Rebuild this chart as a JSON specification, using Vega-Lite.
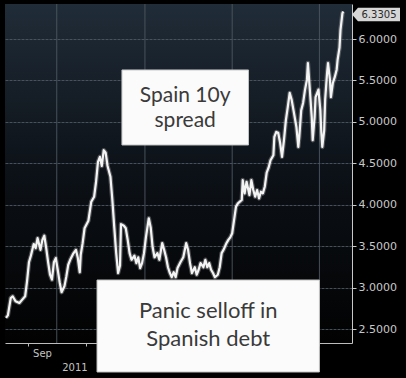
{
  "$schema": "https://vega.github.io/schema/vega-lite/v6.json",
  "width": 347,
  "height": 339,
  "autosize": {"type": "none"},
  "padding": {"left": 5, "top": 4, "right": 54, "bottom": 35},
  "background": "#000000",
  "config": {
    "view": {
      "stroke": null,
      "fill": {"gradient": "linear", "x1": 0, "y1": 0, "x2": 0, "y2": 1,
        "stops": [{"offset": 0, "color": "#202c38"}, {"offset": 0.5, "color": "#0c1117"}, {"offset": 1, "color": "#020202"}]}
    }
  },
  "datasets": {
    "series": [
      {"date":"2011-08-09","value":2.64},{"date":"2011-08-11","value":2.67},{"date":"2011-08-14","value":2.88},{"date":"2011-08-16","value":2.90},
      {"date":"2011-08-19","value":2.84},{"date":"2011-08-23","value":2.82},{"date":"2011-08-26","value":2.86},{"date":"2011-08-29","value":2.90},
      {"date":"2011-08-31","value":3.08},{"date":"2011-09-02","value":3.31},{"date":"2011-09-04","value":3.39},{"date":"2011-09-07","value":3.53},
      {"date":"2011-09-09","value":3.48},{"date":"2011-09-11","value":3.60},{"date":"2011-09-14","value":3.46},{"date":"2011-09-16","value":3.58},
      {"date":"2011-09-18","value":3.63},{"date":"2011-09-20","value":3.48},{"date":"2011-09-22","value":3.31},{"date":"2011-09-24","value":3.16},
      {"date":"2011-09-26","value":3.10},{"date":"2011-09-28","value":3.31},{"date":"2011-09-30","value":3.36},{"date":"2011-10-02","value":3.22},
      {"date":"2011-10-04","value":3.07},{"date":"2011-10-06","value":2.95},{"date":"2011-10-09","value":3.02},{"date":"2011-10-11","value":3.14},
      {"date":"2011-10-13","value":3.28},{"date":"2011-10-15","value":3.34},{"date":"2011-10-18","value":3.41},{"date":"2011-10-21","value":3.46},
      {"date":"2011-10-23","value":3.36},{"date":"2011-10-25","value":3.19},{"date":"2011-10-26","value":3.40},{"date":"2011-10-28","value":3.54},
      {"date":"2011-10-30","value":3.72},{"date":"2011-11-03","value":3.81},{"date":"2011-11-06","value":4.04},{"date":"2011-11-09","value":4.10},
      {"date":"2011-11-11","value":4.28},{"date":"2011-11-13","value":4.52},{"date":"2011-11-15","value":4.58},{"date":"2011-11-17","value":4.47},
      {"date":"2011-11-19","value":4.66},{"date":"2011-11-21","value":4.63},{"date":"2011-11-23","value":4.47},{"date":"2011-11-26","value":4.34},
      {"date":"2011-11-28","value":4.06},{"date":"2011-11-30","value":3.73},{"date":"2011-12-02","value":3.42},{"date":"2011-12-04","value":3.18},
      {"date":"2011-12-06","value":3.27},{"date":"2011-12-07","value":3.77},{"date":"2011-12-10","value":3.75},{"date":"2011-12-12","value":3.72},
      {"date":"2011-12-14","value":3.58},{"date":"2011-12-16","value":3.42},{"date":"2011-12-18","value":3.34},{"date":"2011-12-21","value":3.39},
      {"date":"2011-12-23","value":3.30},{"date":"2011-12-25","value":3.37},{"date":"2011-12-27","value":3.24},{"date":"2011-12-29","value":3.30},
      {"date":"2011-12-31","value":3.42},{"date":"2012-01-02","value":3.61},{"date":"2012-01-05","value":3.84},{"date":"2012-01-07","value":3.73},
      {"date":"2012-01-09","value":3.49},{"date":"2012-01-11","value":3.37},{"date":"2012-01-14","value":3.42},{"date":"2012-01-16","value":3.34},
      {"date":"2012-01-19","value":3.54},{"date":"2012-01-21","value":3.46},{"date":"2012-01-23","value":3.37},{"date":"2012-01-25","value":3.25},
      {"date":"2012-01-27","value":3.18},{"date":"2012-01-29","value":3.13},{"date":"2012-01-31","value":3.19},{"date":"2012-02-02","value":3.13},
      {"date":"2012-02-04","value":3.24},{"date":"2012-02-07","value":3.31},{"date":"2012-02-10","value":3.37},{"date":"2012-02-13","value":3.54},
      {"date":"2012-02-15","value":3.46},{"date":"2012-02-17","value":3.30},{"date":"2012-02-19","value":3.18},{"date":"2012-02-22","value":3.25},
      {"date":"2012-02-24","value":3.16},{"date":"2012-02-26","value":3.22},{"date":"2012-02-28","value":3.30},{"date":"2012-03-02","value":3.25},
      {"date":"2012-03-04","value":3.34},{"date":"2012-03-06","value":3.25},{"date":"2012-03-08","value":3.30},{"date":"2012-03-10","value":3.22},
      {"date":"2012-03-12","value":3.18},{"date":"2012-03-14","value":3.13},{"date":"2012-03-17","value":3.16},{"date":"2012-03-19","value":3.25},
      {"date":"2012-03-21","value":3.42},{"date":"2012-03-23","value":3.46},{"date":"2012-03-26","value":3.54},{"date":"2012-03-28","value":3.58},
      {"date":"2012-03-30","value":3.61},{"date":"2012-04-01","value":3.66},{"date":"2012-04-03","value":3.82},{"date":"2012-04-05","value":3.98},
      {"date":"2012-04-07","value":4.02},{"date":"2012-04-09","value":4.04},{"date":"2012-04-11","value":4.06},{"date":"2012-04-12","value":4.30},
      {"date":"2012-04-14","value":4.14},{"date":"2012-04-16","value":4.28},{"date":"2012-04-19","value":4.12},{"date":"2012-04-21","value":4.30},
      {"date":"2012-04-23","value":4.18},{"date":"2012-04-25","value":4.10},{"date":"2012-04-27","value":4.18},{"date":"2012-04-29","value":4.08},
      {"date":"2012-05-01","value":4.16},{"date":"2012-05-03","value":4.14},{"date":"2012-05-05","value":4.22},{"date":"2012-05-07","value":4.39},
      {"date":"2012-05-09","value":4.45},{"date":"2012-05-11","value":4.54},{"date":"2012-05-14","value":4.60},{"date":"2012-05-15","value":4.82},
      {"date":"2012-05-17","value":4.88},{"date":"2012-05-19","value":4.87},{"date":"2012-05-21","value":4.75},{"date":"2012-05-23","value":4.58},
      {"date":"2012-05-25","value":4.78},{"date":"2012-05-27","value":5.02},{"date":"2012-05-29","value":5.18},{"date":"2012-05-31","value":5.35},
      {"date":"2012-06-02","value":5.27},{"date":"2012-06-04","value":5.14},{"date":"2012-06-07","value":4.94},{"date":"2012-06-09","value":4.70},
      {"date":"2012-06-10","value":4.82},{"date":"2012-06-12","value":5.14},{"date":"2012-06-14","value":5.23},{"date":"2012-06-16","value":5.39},
      {"date":"2012-06-18","value":5.51},{"date":"2012-06-19","value":5.71},{"date":"2012-06-21","value":5.39},{"date":"2012-06-23","value":5.06},
      {"date":"2012-06-24","value":4.78},{"date":"2012-06-26","value":5.06},{"date":"2012-06-27","value":5.30},{"date":"2012-06-30","value":5.39},
      {"date":"2012-07-02","value":5.14},{"date":"2012-07-03","value":4.87},{"date":"2012-07-04","value":4.70},{"date":"2012-07-06","value":4.90},
      {"date":"2012-07-07","value":5.27},{"date":"2012-07-09","value":5.59},{"date":"2012-07-10","value":5.71},{"date":"2012-07-12","value":5.51},
      {"date":"2012-07-13","value":5.30},{"date":"2012-07-15","value":5.47},{"date":"2012-07-17","value":5.54},{"date":"2012-07-19","value":5.63},
      {"date":"2012-07-20","value":5.75},{"date":"2012-07-22","value":5.90},{"date":"2012-07-23","value":6.11},{"date":"2012-07-25","value":6.31},
      {"date":"2012-07-26","value":6.3305}
    ],
    "quarters": [{"date":"2011-10-01"},{"date":"2012-01-01"},{"date":"2012-04-01"},{"date":"2012-07-01"}],
    "years": [{"date":"2011-10-20","value":2.036,"label":"2011"},{"date":"2012-04-03","value":2.036,"label":"2012"}],
    "boxes": [
      {"id":"a","x1":"2011-12-08","x2":"2012-04-18","y1":5.627,"y2":4.723,"tx":"2012-02-12","ty":5.313,"label":"Spain 10y\nspread"},
      {"id":"b","x1":"2011-11-12","x2":"2012-07-01","y1":3.096,"y2":1.988,"tx":"2012-03-07","ty":2.723,"label":"Panic selloff in\nSpanish debt"}
    ],
    "tag": [{"date":"2012-08-04","value":6.3305,"label":"6.3305"}]
  },
  "layer": [
    {
      "data": {"name": "quarters"},
      "mark": {"type": "rule", "color": "#4e5862", "strokeWidth": 1, "opacity": 0.9},
      "encoding": {
        "x": {"field": "date", "type": "temporal",
          "scale": {"type": "utc", "domain": [1312761600000, 1344038400000]},
          "axis": {"title": null, "orient": "bottom",
            "values": [1314835200000, 1317427200000, 1320105600000, 1322697600000, 1325376000000, 1328054400000, 1330560000000, 1333238400000, 1335830400000, 1338508800000, 1341100800000, 1343779200000],
            "labelExpr": "utcmonth(datum.value)==8 ? 'Sep' : ''",
            "labelOffset": 14, "labelPadding": 2,
            "labelAlign": "center", "labelBaseline": "top",
            "labelFont": "DejaVu Sans", "labelFontSize": 10, "labelColor": "#c4c4c4",
            "labelOverlap": false, "labelFlush": false, "labelBound": false,
            "domainColor": "#bdbdbd", "domainWidth": 1, "tickColor": "#bdbdbd", "tickSize": 3,
            "grid": false
          }
        }
      }
    },
    {
      "data": {"name": "series"},
      "mark": {"type": "line", "color": "#9a9a9a", "strokeWidth": 4.5, "opacity": 0.45, "strokeJoin": "round"},
      "encoding": {
        "x": {"field": "date", "type": "temporal"},
        "y": {"field": "value", "type": "quantitative",
          "scale": {"domain": [2.3373, 6.4217], "nice": false, "zero": false},
          "axis": {"title": null, "orient": "right", "values": [2.5,3,3.5,4,4.5,5,5.5,6], "format": ".4f",
            "labelFont": "DejaVu Sans", "labelFontSize": 11, "labelColor": "#c8c8c8", "labelPadding": 2,
            "domainColor": "#c8c8c8", "tickColor": "#c8c8c8", "tickSize": 4,
            "grid": true, "gridColor": "#4e5862", "gridDash": [3, 1], "gridOpacity": 0.9}
        }
      }
    },
    {
      "data": {"name": "series"},
      "mark": {"type": "line", "color": "#f4f4f4", "strokeWidth": 2.2, "strokeJoin": "round"},
      "encoding": {
        "x": {"field": "date", "type": "temporal"},
        "y": {"field": "value", "type": "quantitative"}
      }
    },
    {
      "data": {"name": "years"},
      "mark": {"type": "text", "font": "DejaVu Sans", "fontSize": 10, "color": "#c4c4c4", "align": "center", "baseline": "middle"},
      "encoding": {
        "x": {"field": "date", "type": "temporal"},
        "y": {"field": "value", "type": "quantitative"},
        "text": {"field": "label"}
      }
    },
    {
      "data": {"name": "boxes"},
      "mark": {"type": "rect", "fill": "#fbfbfb", "stroke": "#c4c4c4", "strokeWidth": 1},
      "encoding": {
        "x": {"field": "x1", "type": "temporal"},
        "x2": {"field": "x2"},
        "y": {"field": "y1", "type": "quantitative"},
        "y2": {"field": "y2"}
      }
    },
    {
      "data": {"name": "boxes"},
      "transform": [{"filter": "datum.id == 'a'"}],
      "mark": {"type": "text", "font": "Lato", "fontSize": 21, "lineHeight": 25, "lineBreak": "\n", "color": "#3a3a3a", "align": "center", "baseline": "middle"},
      "encoding": {
        "x": {"field": "tx", "type": "temporal"},
        "y": {"field": "ty", "type": "quantitative"},
        "text": {"field": "label"}
      }
    },
    {
      "data": {"name": "boxes"},
      "transform": [{"filter": "datum.id == 'b'"}],
      "mark": {"type": "text", "font": "Lato", "fontSize": 22, "lineHeight": 28, "lineBreak": "\n", "color": "#3a3a3a", "align": "center", "baseline": "middle"},
      "encoding": {
        "x": {"field": "tx", "type": "temporal"},
        "y": {"field": "ty", "type": "quantitative"},
        "text": {"field": "label"}
      }
    },
    {
      "data": {"name": "tag"},
      "mark": {"type": "point", "shape": "M0,0L0.25,-0.28L2,-0.28L2,0.28L0.25,0.28Z", "size": 2304, "filled": true, "fill": "#d6d6d6", "opacity": 1, "strokeWidth": 0, "yOffset": 3},
      "encoding": {
        "x": {"field": "date", "type": "temporal"},
        "y": {"field": "value", "type": "quantitative"}
      }
    },
    {
      "data": {"name": "tag"},
      "mark": {"type": "text", "font": "DejaVu Sans", "fontSize": 10, "color": "#2a2a2a", "align": "center", "baseline": "middle", "dx": 27, "dy": 3},
      "encoding": {
        "x": {"field": "date", "type": "temporal"},
        "y": {"field": "value", "type": "quantitative"},
        "text": {"field": "label"}
      }
    }
  ]
}
